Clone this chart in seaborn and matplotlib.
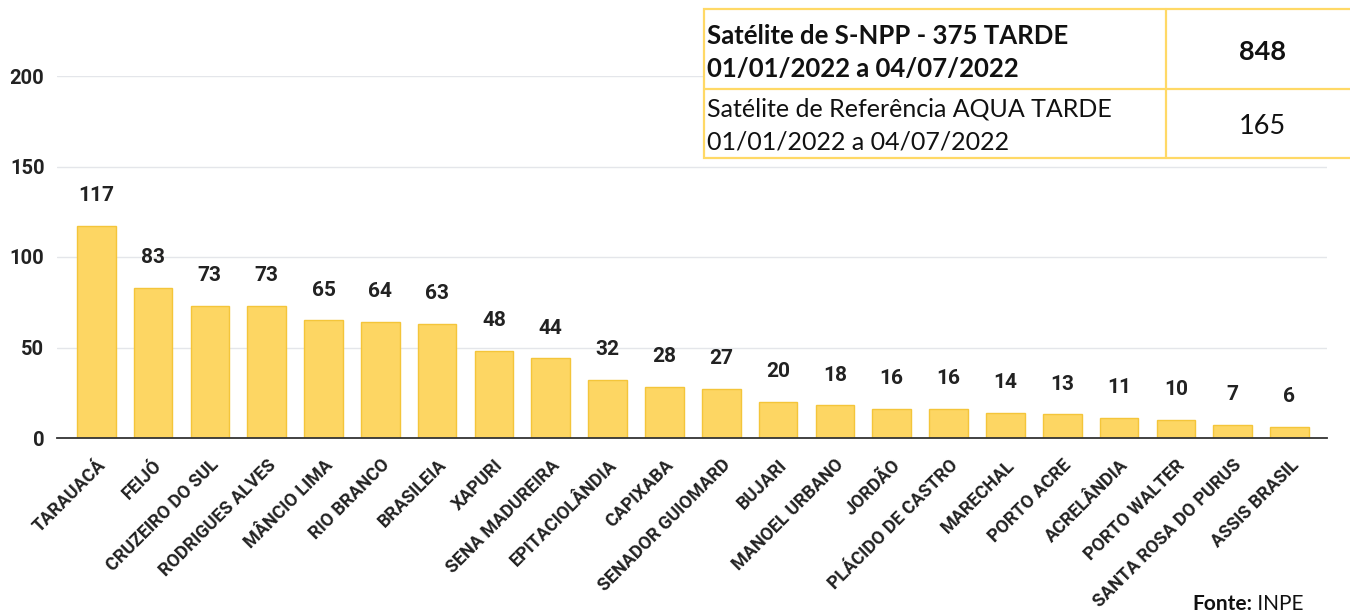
import matplotlib
matplotlib.use('Agg')
import seaborn as sns
import matplotlib.pyplot as plt
from matplotlib.patches import Rectangle

municipios = ['TARAUACÁ', 'FEIJÓ', 'CRUZEIRO DO SUL', 'RODRIGUES ALVES', 'MÂNCIO LIMA',
              'RIO BRANCO', 'BRASILEIA', 'XAPURI', 'SENA MADUREIRA', 'EPITACIOLÂNDIA',
              'CAPIXABA', 'SENADOR GUIOMARD', 'BUJARI', 'MANOEL URBANO', 'JORDÃO',
              'PLÁCIDO DE CASTRO', 'MARECHAL', 'PORTO ACRE', 'ACRELÂNDIA', 'PORTO WALTER',
              'SANTA ROSA DO PURUS', 'ASSIS BRASIL']
focos = [117, 83, 73, 73, 65, 64, 63, 48, 44, 32, 28, 27, 20, 18, 16, 16, 14, 13, 11, 10, 7, 6]
y_ticks = [0, 50, 100, 150, 200]

linha1_txt = ['Satélite de S-NPP - 375 TARDE', '01/01/2022 a 04/07/2022']
linha1_val = '848'
linha2_txt = ['Satélite de Referência AQUA TARDE', '01/01/2022 a 04/07/2022']
linha2_val = '165'

sns.set_style('white')
plt.rcParams['font.family'] = ['Roboto', 'DejaVu Sans']

fig = plt.figure(figsize=(13.5, 6.16), dpi=100)
ax = fig.add_axes([57 / 1350, 1 - 438 / 616, 1270 / 1350, 362 / 616])

sns.barplot(x=municipios, y=focos, color='#FDD663', saturation=1, width=0.68,
            edgecolor='#F4C53A', linewidth=1, ax=ax)
ax.bar_label(ax.containers[0], padding=15, fontsize=15, fontweight='bold', color='#222222')

ax.set_ylim(0, 200)
ax.set_xlim(-0.69, 21.66)
ax.set_yticks(y_ticks)
ax.yaxis.grid(True, color='#E4E6EA', linewidth=1)
ax.set_axisbelow(True)
for s in ['top', 'right', 'left']:
    ax.spines[s].set_visible(False)
ax.spines['bottom'].set_color('#333333')
ax.spines['bottom'].set_linewidth(1.3)
ax.set_xlabel('')
ax.set_ylabel('')

ax.tick_params(axis='y', length=0, pad=9, labelsize=14.5, labelcolor='#222222')
ax.tick_params(axis='x', length=0, pad=13, labelsize=13, labelcolor='#222222')
for lbl in ax.get_yticklabels():
    lbl.set_fontweight('bold')
for lbl in ax.get_xticklabels():
    lbl.set_fontweight('bold')
    lbl.set_rotation(45)
    lbl.set_ha('right')
    lbl.set_va('top')
    lbl.set_rotation_mode('anchor')

# tabela no canto superior direito (coordenadas em pixels)
oax = fig.add_axes([0, 0, 1, 1], zorder=5)
oax.set_xlim(0, 1350)
oax.set_ylim(616, 0)
oax.axis('off')
oax.patch.set_alpha(0)

borda = '#FFD966'
oax.add_patch(Rectangle((704, 9), 680, 149, facecolor='white', edgecolor=borda, linewidth=1.6, clip_on=False))
oax.plot([1166, 1166], [9, 158], color=borda, linewidth=1.6)
oax.plot([704, 1360], [89, 89], color=borda, linewidth=1.6)

fonte_tab = ['Lato', 'DejaVu Sans']
for y, t in zip([36, 69], linha1_txt):
    oax.text(707, y, t, family=fonte_tab, fontsize=18.5, fontweight='bold',
             va='center', ha='left', color='#111111')
oax.text(1262, 52, linha1_val, family=fonte_tab, fontsize=19.5, fontweight='bold',
         va='center', ha='center', color='#111111')
for y, t in zip([109, 142], linha2_txt):
    oax.text(707, y, t, family=fonte_tab, fontsize=18,
             va='center', ha='left', color='#111111')
oax.text(1262, 126, linha2_val, family=fonte_tab, fontsize=19.5,
         va='center', ha='center', color='#111111')

t1 = oax.text(1192, 614, 'Fonte:', family=fonte_tab, fontsize=15, fontweight='bold',
              va='bottom', ha='left', color='#111111')
oax.annotate(' INPE', xy=(1, 0), xycoords=t1, va='bottom', ha='left',
             family=fonte_tab, fontsize=15, color='#111111')

fig.savefig('out.png', dpi=100)
